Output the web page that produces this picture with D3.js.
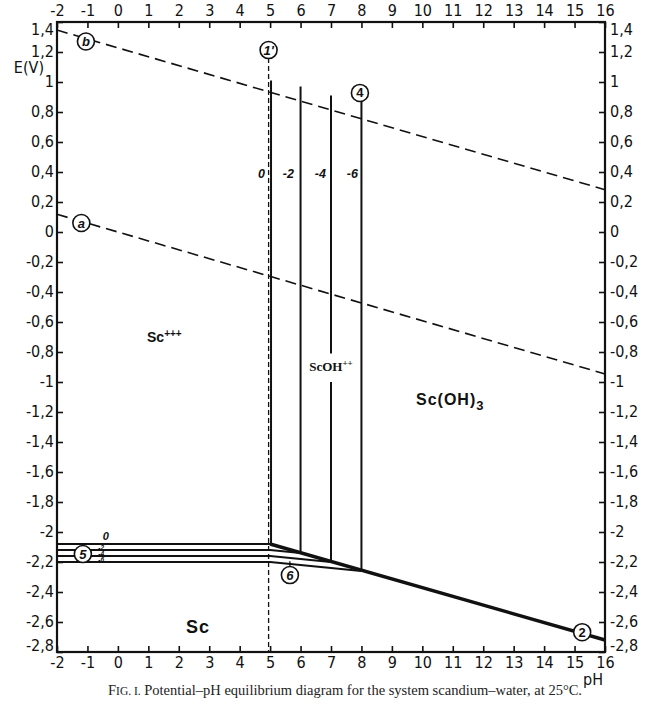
<!DOCTYPE html>
<html><head><meta charset="utf-8">
<script src="https://cdn.jsdelivr.net/npm/d3@7"></script>
<style>
html,body{margin:0;padding:0;background:#fff;}
svg{display:block;}
.tick text,.axt{font-family:"DejaVu Sans Condensed","DejaVu Sans",sans-serif;font-stretch:condensed;font-size:16px;fill:#111;}
</style></head>
<body>
<script>
// ---------- data ----------
const phTicks = [-2,-1,0,1,2,3,4,5,6,7,8,9,10,11,12,13,14,15,16];
const eTicks = [1.4,1.2,1,0.8,0.6,0.4,0.2,0,-0.2,-0.4,-0.6,-0.8,-1,-1.2,-1.4,-1.6,-1.8,-2,-2.2,-2.4,-2.6,-2.8];
const eTickLabels = ["1,4","1,2","1","0,8","0,6","0,4","0,2","0","-0,2","-0,4","-0,6","-0,8","-1","-1,2","-1,4","-1,6","-1,8","-2","-2,2","-2,4","-2,6","-2,8"];
// water stability lines (dashed)
const lineA = [[-2,0.118],[16,-0.946]];
const lineB = [[-2,1.346],[16,0.282]];
// Sc3+ / ScOH++ boundary (dashed vertical, line 1')
const line1p = [[4.95,1.213],[4.95,-2.8]];
// ScOH++ / Sc(OH)3 boundaries (line 4) for log concentrations 0,-2,-4,-6
const concLabels = ["0","-2","-4","-6"];
const vertPH = [5.03,6.0,7.0,8.0];
const vertTop = [1.01,0.97,0.91,0.875];
const vertBottom = [-2.08,-2.14,-2.20,-2.26];
// Sc3+/Sc and ScOH++/Sc lines (line 5 / line 6)
const scLevels = [-2.08,-2.12,-2.16,-2.20];
const scLines = [
  [[-2,-2.08],[5,-2.08]],
  [[-2,-2.12],[5,-2.12],[6.0,-2.14]],
  [[-2,-2.16],[5,-2.16],[7.0,-2.20]],
  [[-2,-2.20],[5,-2.20],[8.0,-2.26]]
];
// Sc(OH)3 / Sc line (line 2)
const line2 = [[5,-2.08],[16,-2.72]];
// circled labels
const circles = [
  {t:"b",ph:-1.05,e:1.27,it:true},
  {t:"a",ph:-1.2,e:0.06,it:true},
  {t:"1'",ph:4.95,e:1.213,it:true},
  {t:"4",ph:7.95,e:0.927,it:false},
  {t:"5",ph:-1.15,e:-2.147,it:true},
  {t:"6",ph:5.65,e:-2.287,it:true},
  {t:"2",ph:15.25,e:-2.668,it:false}
];

// ---------- drawing ----------
const W=659,H=718;
const svg=d3.select("body").append("svg").attr("width",W).attr("height",H);
const x=d3.scaleLinear().domain([-2,16]).range([57,605]);
const y=d3.scaleLinear().domain([-2.8,1.4]).range([652,22]);
const line=d3.line().x(d=>x(d[0])).y(d=>y(d[1]));

const fmtE=d=>eTickLabels[eTicks.indexOf(d)];
const fmtP=d=>String(d).replace("−","-");
function styleAxis(g){g.select(".domain").remove();g.selectAll(".tick line").attr("stroke","#111").attr("stroke-width",1.6);}
svg.append("g").attr("transform",`translate(0,${y(1.4)})`)
  .call(d3.axisTop(x).tickValues(phTicks).tickSize(-6).tickPadding(6).tickFormat(fmtP)).call(styleAxis);
svg.append("g").attr("transform",`translate(0,${y(-2.8)})`)
  .call(d3.axisBottom(x).tickValues(phTicks).tickSize(-6).tickPadding(5).tickFormat(fmtP)).call(styleAxis);
const gl=svg.append("g").attr("transform",`translate(${x(-2)},0)`)
  .call(d3.axisLeft(y).tickValues(eTicks).tickSize(-6).tickPadding(3).tickFormat(fmtE)).call(styleAxis);
const gr=svg.append("g").attr("transform",`translate(${x(16)},0)`)
  .call(d3.axisRight(y).tickValues(eTicks).tickSize(-6).tickPadding(5).tickFormat(fmtE)).call(styleAxis);
[gl,gr].forEach(g=>g.selectAll(".tick text").attr("dy",d=>d===1.4?"0.75em":(d===-2.8?"-0.12em":"0.28em")));

// frame
svg.append("rect").attr("x",x(-2)).attr("y",y(1.4)).attr("width",x(16)-x(-2)).attr("height",y(-2.8)-y(1.4))
  .attr("fill","none").attr("stroke","#111").attr("stroke-width",2.2);

// dashed lines
[lineA,lineB].forEach(l=>svg.append("path").attr("d",line(l)).attr("fill","none").attr("stroke","#111")
  .attr("stroke-width",1.6).attr("stroke-dasharray","11,6"));
svg.append("path").attr("d",line(line1p)).attr("fill","none").attr("stroke","#111")
  .attr("stroke-width",1.3).attr("stroke-dasharray","5,3");

// vertical boundaries
vertPH.forEach((p,i)=>{
  svg.append("path").attr("d",line([[p,vertTop[i]],[p,vertBottom[i]]])).attr("fill","none")
    .attr("stroke","#111").attr("stroke-width",2);
});
// Sc lines
scLines.forEach(l=>svg.append("path").attr("d",line(l)).attr("fill","none").attr("stroke","#111").attr("stroke-width",2));
svg.append("path").attr("d",line(line2)).attr("fill","none").attr("stroke","#111").attr("stroke-width",3.4);

// connector for circle 6
svg.append("line").attr("x1",x(5.65)).attr("x2",x(5.65)).attr("y1",y(-2.287)-8).attr("y2",y(-2.195)).attr("stroke","#111").attr("stroke-width",1.3);

// concentration labels on verticals
const clX=[4.72,5.6,6.65,7.7];
concLabels.forEach((t,i)=>{
  svg.append("text").attr("x",x(clX[i])).attr("y",178).attr("text-anchor","middle")
    .attr("font-family","Liberation Sans, sans-serif").attr("font-style","italic").attr("font-weight","bold")
    .attr("font-size",12.5).attr("fill","#111").text(t);
});
// small labels near circle 5
svg.append("text").attr("x",x(-0.4)).attr("y",y(-2.08)-4).attr("text-anchor","middle")
  .attr("font-family","Liberation Sans, sans-serif").attr("font-style","italic").attr("font-weight","bold")
  .attr("font-size",11).attr("fill","#111").text(concLabels[0]);
concLabels.slice(1).forEach((t,i)=>{
  svg.append("text").attr("x",x(-0.55)).attr("y",y((scLevels[i]+scLevels[i+1])/2)+2.5).attr("text-anchor","middle")
    .attr("font-family","Liberation Sans, sans-serif").attr("font-style","italic").attr("font-weight","bold")
    .attr("font-size",6.5).attr("fill","#111").text(t);
});

// circles
circles.forEach(c=>{
  const g=svg.append("g").attr("transform",`translate(${x(c.ph)},${y(c.e)})`);
  g.append("circle").attr("r",8.5).attr("fill","#fff").attr("stroke","#111").attr("stroke-width",1.6);
  g.append("text").attr("y",4.5).attr("text-anchor","middle").attr("font-family","Liberation Sans, sans-serif")
    .attr("font-style",c.it?"italic":"normal").attr("font-weight","bold").attr("font-size",13).attr("fill","#111").text(c.t);
});

// region labels
const sc3=svg.append("text").attr("x",147).attr("y",342).attr("font-family","Liberation Sans, sans-serif")
  .attr("font-weight","bold").attr("font-size",14).attr("fill","#111");
sc3.append("tspan").text("Sc");
sc3.append("tspan").attr("dy",-5).attr("font-size",10).text("+++");

// ScOH++ with white background interrupting line
svg.append("rect").attr("x",x(7)-28).attr("y",y(-0.81)).attr("width",56).attr("height",y(-1.0)-y(-0.81)).attr("fill","#fff");
const sco=svg.append("text").attr("x",x(7)).attr("y",371).attr("text-anchor","middle").attr("font-family","Liberation Serif, serif")
  .attr("font-weight","bold").attr("font-size",13).attr("fill","#111");
sco.append("tspan").text("ScOH");
sco.append("tspan").attr("dy",-5).attr("font-size",9).text("++");

const soh=svg.append("text").attr("x",416).attr("y",405).attr("font-family","Liberation Sans, sans-serif")
  .attr("font-weight","bold").attr("font-size",16).attr("letter-spacing",1).attr("fill","#111");
soh.append("tspan").text("Sc(OH)");
soh.append("tspan").attr("dy",5).attr("font-size",13).text("3");

svg.append("text").attr("x",186).attr("y",633).attr("font-family","Liberation Sans, sans-serif")
  .attr("font-weight","bold").attr("font-size",18).attr("letter-spacing",1).attr("fill","#111").text("Sc");

// axis titles
svg.append("text").attr("class","axt").attr("x",44).attr("y",73).attr("text-anchor","end").text("E(V)");
svg.append("text").attr("class","axt").attr("x",583).attr("y",685).text("pH");

// caption
const cap=svg.append("text").attr("x",345).attr("y",695).attr("text-anchor","middle").attr("font-family","Liberation Serif, serif")
  .attr("font-size",14.5).attr("fill","#222");
cap.append("tspan").text("F");
cap.append("tspan").attr("font-size",11.5).text("IG. I.");
cap.append("tspan").text(" Potential–pH equilibrium diagram for the system scandium–water, at 25°C.");
</script>
</body></html>
